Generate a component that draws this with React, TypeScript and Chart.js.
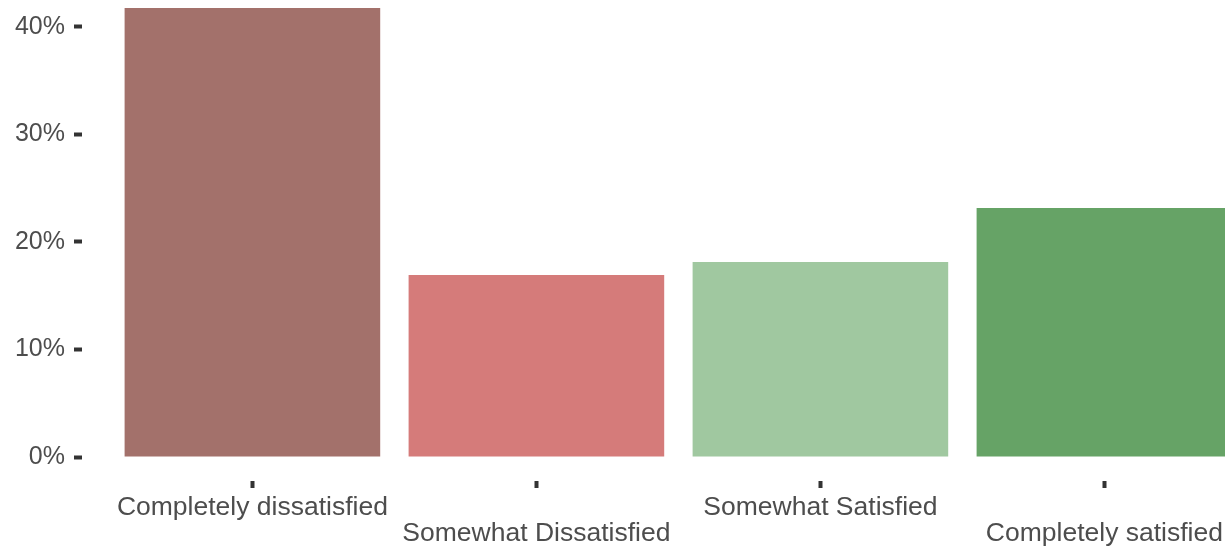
import React, { useEffect, useRef } from "react";
import { Chart, registerables } from "chart.js";

Chart.register(...registerables);

const categories = [
  "Completely dissatisfied",
  "Somewhat Dissatisfied",
  "Somewhat Satisfied",
  "Completely satisfied",
];
const shares = [41.77, 16.93, 18.14, 23.16];
const barColors = ["#A3716B", "#D57B7A", "#A0C8A0", "#66A366"];
const yTickValues = [0, 10, 20, 30, 40];

export default function App() {
  const ref = useRef<HTMLCanvasElement | null>(null);

  useEffect(() => {
    document.body.style.margin = "0";
    const canvas = ref.current;
    if (!canvas) return;
    const family = "'Liberation Sans', Arial, Helvetica, sans-serif";
    const chart = new Chart(canvas, {
      type: "bar",
      data: {
        datasets: [
          {
            data: shares.map((v, i) => ({ x: i + 1, y: v })),
            backgroundColor: barColors,
            borderWidth: 0,
            barPercentage: 0.9,
            categoryPercentage: 1,
          },
        ],
      },
      options: {
        animation: false,
        responsive: false,
        maintainAspectRatio: false,
        layout: { padding: 0 },
        plugins: { legend: { display: false }, tooltip: { enabled: false } },
        scales: {
          x: {
            type: "linear",
            offset: false,
            min: 0.4,
            max: 0.4 + (1225 - 82) / 284,
            border: { display: false },
            grid: {
              offset: false,
              drawOnChartArea: false,
              drawTicks: true,
              tickLength: 7,
              tickWidth: 4,
              tickColor: "#333333",
            },
            afterBuildTicks: (scale: any) => {
              scale.ticks = categories.map((_, i) => ({ value: i + 1 }));
            },
            afterFit: (scale: any) => {
              scale.height = 547 - 481;
              scale.paddingLeft = 0;
              scale.paddingRight = 0;
            },
            ticks: {
              autoSkip: false,
              maxRotation: 0,
              minRotation: 0,
              padding: 6,
              color: "#4D4D4D",
              font: { family, size: 26.5, lineHeight: 1.0 },
              callback: (value: any) => {
                const idx = Math.round(Number(value)) - 1;
                const label = categories[idx] ?? "";
                return idx % 2 === 1 ? ["", label] : [label];
              },
            },
          },
          y: {
            type: "linear",
            min: -24 / 10.75,
            max: 457 / 10.75,
            border: { display: false },
            grid: {
              drawOnChartArea: false,
              drawTicks: true,
              tickLength: 8,
              tickWidth: 4,
              tickColor: "#333333",
            },
            afterBuildTicks: (scale: any) => {
              scale.ticks = yTickValues.map((v) => ({ value: v }));
            },
            afterFit: (scale: any) => {
              scale.width = 82;
              scale.paddingTop = 0;
              scale.paddingBottom = 0;
            },
            ticks: {
              padding: 9,
              color: "#4D4D4D",
              font: { family, size: 25, lineHeight: 1.0 },
              callback: (value: any) => `${value}%`,
            },
          },
        },
      },
    });
    return () => chart.destroy();
  }, []);

  return (
    <div style={{ position: "fixed", left: 0, top: 0, width: 1225, height: 547, background: "#ffffff" }}>
      <canvas ref={ref} width={1225} height={547} style={{ display: "block", width: 1225, height: 547 }} />
    </div>
  );
}
